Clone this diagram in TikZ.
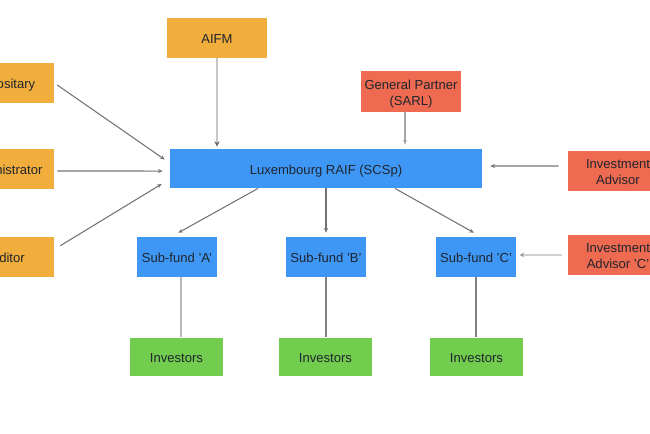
\documentclass[tikz,border=0pt]{standalone}
\usepackage{fontspec}
\setmainfont{Liberation Sans}
\usetikzlibrary{arrows.meta}
\definecolor{ambr}{HTML}{F2AE3C}
\definecolor{redd}{HTML}{EE6A50}
\definecolor{bluu}{HTML}{3F97F5}
\definecolor{grnn}{HTML}{72CC4E}
\definecolor{txt}{HTML}{20252E}
\newcommand{\tsa}{\rule{0pt}{10.8pt}}
\newcommand{\tsb}{\rule[-2pt]{0pt}{2pt}}
\tikzset{
 x=0.75pt,y=-0.75pt,
 boxstyle/.style={inner sep=0pt,align=center,text=txt,font=\fontsize{9.8}{12}\selectfont},
 amberbox/.style={boxstyle,fill=ambr,minimum width=75pt,minimum height=30pt},
 redbox/.style={boxstyle,fill=redd,minimum width=75pt,minimum height=30.5pt},
 fundbox/.style={boxstyle,fill=bluu,minimum width=60pt,minimum height=30pt},
 invbox/.style={boxstyle,fill=grnn,minimum width=70pt,minimum height=29pt},
 dark/.style={draw=black!55,line width=0.8pt,-{Stealth[length=3.5pt,width=3pt]}},
 pale/.style={draw=black!22,line width=1.6pt,-{Stealth[length=4pt,width=4pt,color=black!60]}},
 plain/.style={draw=black!50,line width=1pt},
 thickplain/.style={draw=black!28,line width=1.6pt},
 faint/.style={draw=black!18,line width=1.3pt,-{Stealth[length=3.5pt,width=3.5pt,color=black!40]}}
}
\begin{document}
\begin{tikzpicture}
\useasboundingbox (0,0) rectangle (650,433);
\clip (0,0) rectangle (650,433);
\node[amberbox] (aifm) at (217,38) {\tsa AIFM\tsb};
\node[amberbox] (dep) at (4,83) {\tsa Depositary\tsb};
\node[amberbox] (adm) at (4,169) {\tsa Administrator\tsb};
\node[amberbox] (aud) at (4,257) {\tsa Auditor\tsb};
\node[redbox] (gp) at (411,91.5) {\tsa General Partner\\(SARL)\tsb};
\node[redbox] (adv) at (618,171) {\tsa Investment\\Advisor\tsb};
\node[redbox] (advc) at (618,255) {\tsa Investment\\Advisor 'C'\tsb};
\node[boxstyle,fill=bluu,minimum width=234pt,minimum height=29.5pt] (lux) at (326,168.5) {\tsa Luxembourg RAIF (SCSp)\tsb};
\node[fundbox] (a) at (177,257) {\tsa Sub-fund 'A'\tsb};
\node[fundbox] (b) at (326,257) {\tsa Sub-fund 'B'\tsb};
\node[fundbox] (c) at (476,257) {\tsa Sub-fund 'C'\tsb};
\node[invbox] (ia) at (176.5,357) {\tsa Investors\tsb};
\node[invbox] (ib) at (325.5,357) {\tsa Investors\tsb};
\node[invbox] (ic) at (476.5,357) {\tsa Investors\tsb};
\draw[pale] (aifm.south) -- ([yshift=1.5pt]aifm.south |- lux.north);
\draw[dark] ([xshift=2.25pt,yshift=-1.5pt]dep.east) -- ([xshift=-3.75pt,yshift=-8.25pt]lux.north west);
\draw[dark] ([xshift=2.25pt,yshift=-1.5pt]adm.east) -- ([xshift=-5.25pt,yshift=-1.9pt]lux.west);
\draw[dark] ([xshift=4.5pt,yshift=-6.75pt]aud.north east) -- ([xshift=-6pt,yshift=-11.6pt]lux.west);
\draw[dark,draw=black!35,line width=1.2pt] ([xshift=-4.5pt]gp.south) -- ([xshift=-4.5pt,yshift=3pt]gp.south |- lux.north);
\draw[dark] ([xshift=-6.75pt,yshift=3.75pt]adv.west) -- ([xshift=6pt,yshift=1.9pt]lux.east);
\draw[faint] ([xshift=-4.5pt]advc.west) -- ([xshift=2.5pt]advc.west -| c.east);
\draw[dark] ([xshift=-51pt]lux.south) -- ([xshift=1pt,yshift=3pt]a.north);
\draw[dark] (lux.south) -- ([yshift=3pt]b.north);
\draw[dark] ([xshift=51.75pt]lux.south) -- ([xshift=-1.5pt,yshift=3pt]c.north);
\draw[thickplain] ([xshift=3.4pt]ia.north) -- ([xshift=3.4pt]ia.north |- a.south);
\draw[plain] (ib.north -| b.south) -- (b.south);
\draw[plain] (ic.north -| c.south) -- (c.south);
\end{tikzpicture}
\end{document}
